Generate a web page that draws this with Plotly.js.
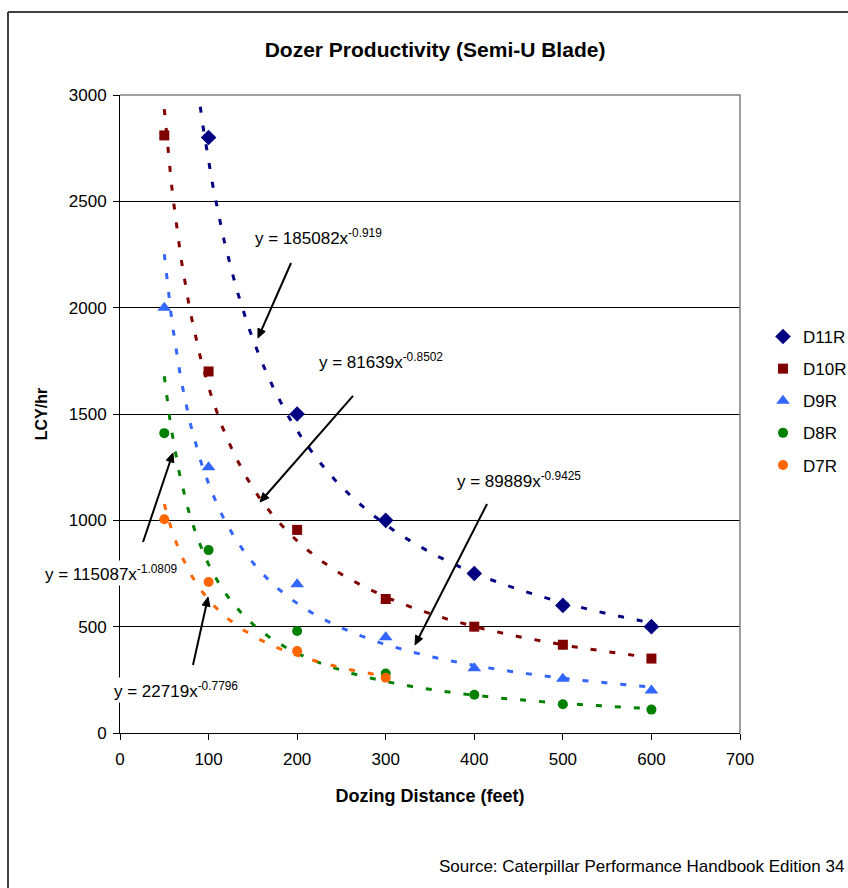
<!DOCTYPE html>
<html>
<head>
<meta charset="utf-8">
<script src="https://cdn.plot.ly/plotly-3.0.1.min.js"></script>
<style>html,body{margin:0;padding:0;background:#fff;overflow:hidden;}#chart{width:848px;height:888px;}</style>
</head>
<body>
<div id="chart"></div>
<script>
// ---- data ----
var seriesNames = ['D11R', 'D10R', 'D9R', 'D8R', 'D7R'];
var xD11R = [100, 200, 300, 400, 500, 600];
var yD11R = [2800, 1500, 1000, 750, 600, 500];
var xD10R = [50, 100, 200, 300, 400, 500, 600];
var yD10R = [2810, 1700, 955, 630, 500, 415, 350];
var xD9R = [50, 100, 200, 300, 400, 500, 600];
var yD9R = [2000, 1250, 700, 450, 305, 255, 200];
var xD8R = [50, 100, 200, 300, 400, 500, 600];
var yD8R = [1410, 860, 480, 280, 180, 135, 110];
var xD7R = [50, 100, 200, 300];
var yD7R = [1005, 710, 385, 260];
// power trendline equations shown on the chart: y = a * x^b
var trendA = [185082, 81639, 89889, 115087, 22719];
var trendB = [-0.919, -0.8502, -0.9425, -1.0809, -0.7796];
var trendX0 = [50, 50, 50, 50, 50];
var trendX1 = [600, 600, 600, 600, 300];
var eqLabels = ['y = 185082x<sup>-0.919</sup>', 'y = 81639x<sup>-0.8502</sup>', 'y = 89889x<sup>-0.9425</sup>',
                'y = 115087x<sup>-1.0809</sup>', 'y = 22719x<sup>-0.7796</sup>'];

var xs = [xD11R, xD10R, xD9R, xD8R, xD7R];
var ys = [yD11R, yD10R, yD9R, yD8R, yD7R];
var colors = ['#000080', '#800000', '#3366FF', '#008000', '#FF6600'];
var symbols = ['diamond', 'square', 'triangle-up', 'circle', 'circle'];
var sizes = [12, 10, 12, 10, 10];

var FONT = 'Liberation Sans, Arial, sans-serif';
var traces = [];
for (var i = 0; i < 5; i++) {
  var tx = [], ty = [];
  for (var x = trendX0[i]; x <= trendX1[i] + 1e-9; x += 2) {
    tx.push(x); ty.push(trendA[i] * Math.pow(x, trendB[i]));
  }
  traces.push({x: tx, y: ty, mode: 'lines', type: 'scatter', showlegend: false, hoverinfo: 'skip',
    line: {color: colors[i], width: 3, dash: '6px,13px'}});
}
for (var j = 0; j < 5; j++) {
  traces.push({x: xs[j], y: ys[j], mode: 'markers', type: 'scatter', name: seriesNames[j],
    legendgroup: 'g' + j,
    marker: {color: colors[j], symbol: symbols[j], size: sizes[j]}});
}

var ML = 120, MT = 95, PW = 620, PH = 638, XMAX = 700, YMAX = 3000;
function px2paperX(p) { return (p - ML) / PW; }
function px2paperY(p) { return (MT + PH - p) / PH; }
function d2pxX(v) { return ML + v / XMAX * PW; }
function d2pxY(v) { return MT + PH - v / YMAX * PH; }

// label positions (pixel positions converted to paper coords, left-anchored)
var labelPos = [[253, 237], [317, 361], [455, 480], [43, 573], [112, 690]];
// arrows: head and tail in data units
var arrowHeadX = [155.8, 158.1, 333.1, 59.8, 99.4];
var arrowHeadY = [1857, 1086, 414, 1317, 639];
var arrowTailX = [193.1, 263.1, 414.4, 26.0, 82.4];
var arrowTailY = [2210, 1585, 1077, 898, 320];

var annotations = [];
for (var k = 0; k < 5; k++) {
  annotations.push({xref: 'paper', yref: 'paper', x: px2paperX(labelPos[k][0]), y: px2paperY(labelPos[k][1]),
    xanchor: 'left', yanchor: 'middle', text: eqLabels[k], showarrow: false,
    font: {family: FONT, size: 17, color: '#000'}, bgcolor: '#fff', borderpad: 1});
}
annotations.push({xref: 'paper', yref: 'paper', x: px2paperX(846), y: px2paperY(866), xanchor: 'right', yanchor: 'middle',
  text: 'Source: Caterpillar Performance Handbook Edition 34', showarrow: false,
  font: {family: FONT, size: 17, color: '#000'}});

var shapes = [
  {type: 'path', xref: 'paper', yref: 'paper', path: 'M0,1 L1,1 L1,0', line: {color: '#808080', width: 1.5}},
  {type: 'line', xref: 'paper', yref: 'paper', x0: px2paperX(8), x1: px2paperX(8), y0: px2paperY(12), y1: px2paperY(890),
    line: {color: '#404040', width: 2}},
  {type: 'line', xref: 'paper', yref: 'paper', x0: px2paperX(8), x1: px2paperX(850), y0: px2paperY(12), y1: px2paperY(12),
    line: {color: '#404040', width: 2}}
];
// arrows drawn as line + filled head (pixel geometry -> paper coords)
for (var m = 0; m < 5; m++) {
  var hx = d2pxX(arrowHeadX[m]), hy = d2pxY(arrowHeadY[m]);
  var sx = d2pxX(arrowTailX[m]), sy = d2pxY(arrowTailY[m]);
  var dx = hx - sx, dy = hy - sy, L = Math.sqrt(dx * dx + dy * dy);
  var ux = dx / L, uy = dy / L, HL = 9, HW = 4;
  var bx = hx - ux * HL, by = hy - uy * HL;
  shapes.push({type: 'line', xref: 'paper', yref: 'paper', x0: px2paperX(sx), y0: px2paperY(sy),
    x1: px2paperX(bx + ux * 2), y1: px2paperY(by + uy * 2), line: {color: '#000', width: 2}});
  var p1x = bx - uy * HW, p1y = by + ux * HW, p2x = bx + uy * HW, p2y = by - ux * HW;
  shapes.push({type: 'path', xref: 'paper', yref: 'paper',
    path: 'M' + px2paperX(hx) + ',' + px2paperY(hy) + ' L' + px2paperX(p1x) + ',' + px2paperY(p1y) +
          ' L' + px2paperX(p2x) + ',' + px2paperY(p2y) + ' Z',
    fillcolor: '#000', line: {color: '#000', width: 1}});
}

var layout = {
  width: 848, height: 888,
  margin: {l: ML, r: 848 - ML - PW, t: MT, b: 888 - MT - PH, pad: 0, autoexpand: false},
  paper_bgcolor: '#fff', plot_bgcolor: '#fff',
  font: {family: FONT, size: 17, color: '#000'},
  title: {text: '<b>Dozer Productivity (Semi-U Blade)</b>', x: 0.513, xanchor: 'center', y: 1 - 50 / 888, yanchor: 'middle',
    font: {family: FONT, size: 21, color: '#000'}},
  xaxis: {range: [0, XMAX], dtick: 100, tick0: 0, showgrid: false, zeroline: false, showline: true, linecolor: '#000', linewidth: 1,
    ticks: 'outside', ticklen: 6, tickcolor: '#000', ticklabelstandoff: 5,
    tickfont: {family: FONT, size: 17},
    title: {text: '<b>Dozing Distance (feet)</b>', font: {family: FONT, size: 18}, standoff: 20}},
  yaxis: {range: [0, YMAX], dtick: 500, tick0: 0, showgrid: true, gridcolor: '#000', gridwidth: 1, zeroline: false,
    showline: true, linecolor: '#000', linewidth: 1, ticks: 'outside', ticklen: 6, tickcolor: '#000', ticklabelstandoff: 3,
    tickfont: {family: FONT, size: 17},
    title: {text: '<b>LCY/hr</b>', font: {family: FONT, size: 16}, standoff: 17}},
  legend: {x: px2paperX(763), y: px2paperY(319), xanchor: 'left', yanchor: 'top', traceorder: 'grouped',
    tracegroupgap: 7, font: {family: FONT, size: 17}, bgcolor: 'rgba(0,0,0,0)', borderwidth: 0},
  annotations: annotations,
  shapes: shapes,
  showlegend: true
};
Plotly.newPlot('chart', traces, layout, {displayModeBar: false, staticPlot: true});
</script>
</body>
</html>
